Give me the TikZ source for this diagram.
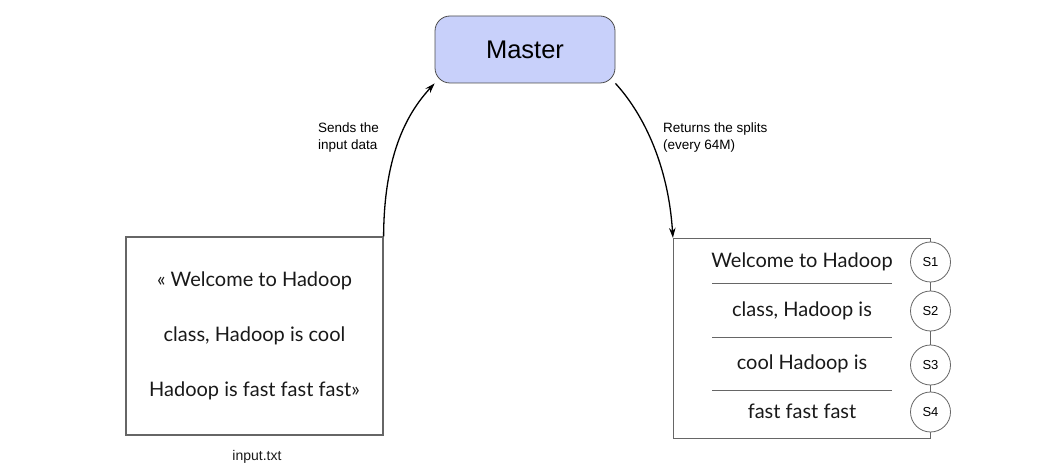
\documentclass[tikz,border=0pt]{standalone}
\usepackage{fontspec}
\setmainfont{Liberation Sans}
\newfontfamily\bodyfont{Lato}
\usetikzlibrary{arrows.meta}
\begin{document}
\begin{tikzpicture}[x=1pt,y=-1pt,
  boxline/.style={draw=black!60, line width=1.2pt},
  body/.style={font=\bodyfont\fontsize{20}{23}\selectfont, text=black!90},
  lbl/.style={font=\fontsize{13.5}{17}\selectfont, align=left, anchor=north west, inner sep=0pt},
  split/.style={circle, draw=black!60, line width=0.8pt, fill=white, minimum size=40pt, inner sep=0pt, font=\fontsize{13}{15}\selectfont},
  sep/.style={draw=black!60, line width=0.8pt},
  conn/.style={draw=black, line width=1.3pt, -{Stealth[length=10pt,width=6.5pt]}}]
\useasboundingbox (0,0) rectangle (1050,473);
\node[draw=black!70, line width=0.8pt, fill={rgb,255:red,200;green,208;blue,250}, rounded corners=15pt,
  minimum width=180pt, minimum height=67pt, font=\fontsize{25.5}{30}\selectfont] (master) at (525,49.5) {Master};
% input box
\node[boxline, minimum width=257pt, minimum height=198pt, inner sep=0pt] (inbox) at (254.5,336) {};
\node[body] (l1) at (254.5,281) {« Welcome to Hadoop};
\node[body] (l2) at (254.5,336) {class, Hadoop is cool};
\node[body] (l3) at (254.5,391) {Hadoop is fast fast fast»};
\node[font=\fontsize{14}{16}\selectfont, text=black!90] (intxt) at (257,457) {input.txt};
% splits box
\node[boxline, minimum width=257pt, minimum height=200pt, inner sep=0pt] (sbox) at (802,338.5) {};
\node[body] (r1) at (802,262) {Welcome to Hadoop};
\node[body] (r2) at (802,311) {class, Hadoop is};
\node[body] (r3) at (802,364) {cool Hadoop is};
\node[body] (r4) at (802,411) {fast fast fast};
\coordinate (a1) at (712,283); \coordinate (b1) at (892,283);
\coordinate (a2) at (712,337); \coordinate (b2) at (892,337);
\coordinate (a3) at (712,390); \coordinate (b3) at (892,390);
\draw[sep] (a1) -- (b1);
\draw[sep] (a2) -- (b2);
\draw[sep] (a3) -- (b3);
\node[split] (s1) at (930.5,262) {S1};
\node[split] (s2) at (930.5,311) {S2};
\node[split] (s3) at (930.5,365) {S3};
\node[split] (s4) at (930.5,412) {S4};
% connectors
\draw[conn] (inbox.north east) .. controls (384,150) and (410,110) .. (master.south west);
\draw[conn] (master.south east) .. controls (640,110) and (668,160) .. (sbox.north west);
\node[lbl] (send) at (318,123) {Sends the\\input data};
\node[lbl] (ret) at (663,123) {Returns the splits\\(every 64M)};
\end{tikzpicture}
\end{document}
